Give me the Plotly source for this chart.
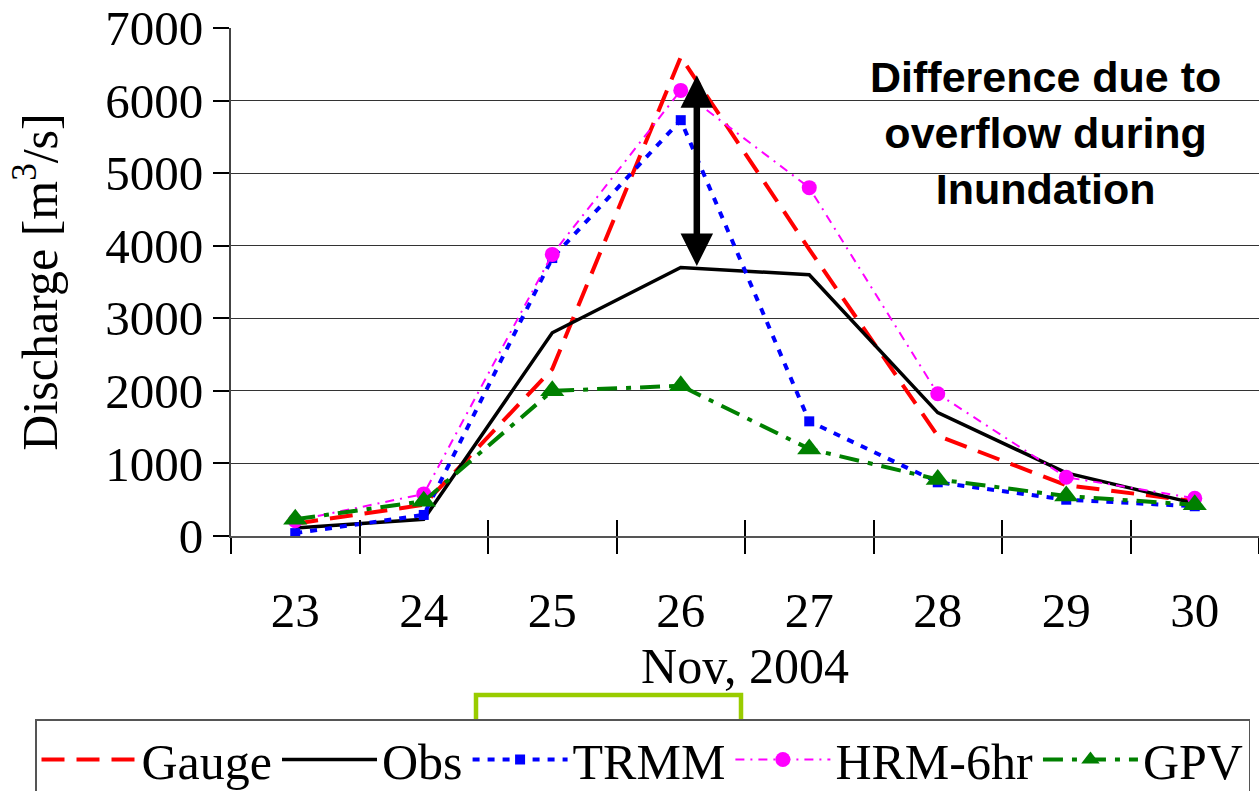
import plotly.graph_objects as go

days = ["23", "24", "25", "26", "27", "28", "29", "30"]
gauge = [170, 430, 2300, 6600, 3950, 1380, 700, 480]
obs = [110, 230, 2800, 3700, 3600, 1700, 870, 450]
trmm = [40, 290, 3830, 5730, 1580, 740, 500, 410]
hrm = [210, 580, 3880, 6140, 4800, 1960, 810, 520]
gpv = [230, 480, 2000, 2070, 1200, 780, 550, 430]
yticks = [0, 1000, 2000, 3000, 4000, 5000, 6000, 7000]

W, H = 1259, 791
ML, MR, MT, MB = 231, 0, 28, 255
PW, PH = W - ML - MR, H - MT - MB

def px_x(p):
    return (p - ML) / PW

def px_y(p):
    return (H - MB - p) / PH

serif = "Liberation Serif"

fig = go.Figure()
fig.add_trace(go.Scatter(x=days, y=gauge, name="Gauge", mode="lines",
                         line=dict(color="#FF0000", width=4, dash="23px,12px")))
fig.add_trace(go.Scatter(x=days, y=obs, name="Obs", mode="lines",
                         line=dict(color="#000000", width=3.5)))
fig.add_trace(go.Scatter(x=days, y=trmm, name="TRMM", mode="lines+markers",
                         line=dict(color="#0000FF", width=4, dash="7px,8px"),
                         marker=dict(symbol="square", size=10, color="#0000FF")))
fig.add_trace(go.Scatter(x=days, y=hrm, name="HRM-6hr", mode="lines+markers",
                         line=dict(color="#FF00FF", width=2, dash="9px,6px,2px,6px"),
                         marker=dict(symbol="circle", size=15, color="#FF00FF")))
fig.add_trace(go.Scatter(x=days, y=gpv, name="GPV", mode="lines+markers",
                         line=dict(color="#008000", width=4, dash="20px,9px,5px,9px"),
                         marker=dict(symbol="triangle-up", size=21, color="#008000")))
# overlay axis used only for the upper half of the crossing category ticks
fig.add_trace(go.Scatter(x=[None], y=[None], xaxis="x2", showlegend=False, hoverinfo="skip"))

fig.update_layout(
    width=W, height=H,
    margin=dict(l=ML, r=MR, t=MT, b=MB, autoexpand=False),
    paper_bgcolor="white", plot_bgcolor="white",
    font=dict(family=serif, color="black"),
    xaxis=dict(type="category", categoryorder="array", categoryarray=days,
               range=[-0.5, 7.5], showline=True, linecolor="#555", linewidth=2,
               ticks="outside", tickson="boundaries", ticklen=16, tickwidth=1.5,
               tickcolor="black", showgrid=False, zeroline=False,
               tickfont=dict(family=serif, size=49, color="black"),
               ticklabelstandoff=30, automargin=True,
               title=dict(text="Nov, 2004", font=dict(family=serif, size=50, color="black"),
                          standoff=10)),
    xaxis2=dict(overlaying="x", anchor="y", type="linear", range=[-0.5, 7.5],
                tickvals=[i - 0.5 for i in range(9)], ticks="inside", ticklen=16,
                tickwidth=1.5, tickcolor="black", showticklabels=False,
                showgrid=False, zeroline=False, showline=False),
    yaxis=dict(range=[0, 7000], tickvals=yticks, showgrid=True, gridcolor="#333",
               gridwidth=1, showline=True, linecolor="#444", linewidth=2,
               ticks="outside", ticklen=16, tickwidth=1.5, tickcolor="black",
               zeroline=False,
               tickfont=dict(family=serif, size=49, color="black"),
               title=dict(text="Discharge [m<sup>3</sup>/s]",
                          font=dict(family=serif, size=50, color="black"),
                          standoff=32)),
    legend=dict(orientation="h", x=px_x(35), y=px_y(719), xanchor="left", yanchor="top",
                bordercolor="#555", borderwidth=1.5, bgcolor="white",
                font=dict(family=serif, size=50, color="black"),
                itemwidth=95, tracegroupgap=0),
    showlegend=True,
)

fig.add_annotation(text="Difference due to<br>overflow during<br>Inundation",
                   xref="paper", yref="y", x=px_x(1045), y=5550,
                   xanchor="center", yanchor="middle",
                   showarrow=False, align="center",
                   font=dict(family="Liberation Sans", size=43, color="black", weight="bold"))

fig.add_annotation(text="", xref="x", yref="y", axref="x", ayref="y",
                   x=3.125, y=6350, ax=3.125, ay=obs[3],
                   showarrow=True, arrowside="end+start",
                   arrowhead=2, startarrowhead=2, arrowsize=1.0, startarrowsize=1.0,
                   arrowwidth=6.5, arrowcolor="black", standoff=0, startstandoff=0)

fig.add_shape(type="rect", xref="paper", yref="paper",
              x0=px_x(476), x1=px_x(741), y0=px_y(695), y1=px_y(805),
              line=dict(color="#99CC00", width=4.5), fillcolor="rgba(0,0,0,0)")

fig.write_html("out.html", config={"displayModeBar": False},
               post_script="document.body.style.margin='0px';document.body.style.overflow='hidden';")
